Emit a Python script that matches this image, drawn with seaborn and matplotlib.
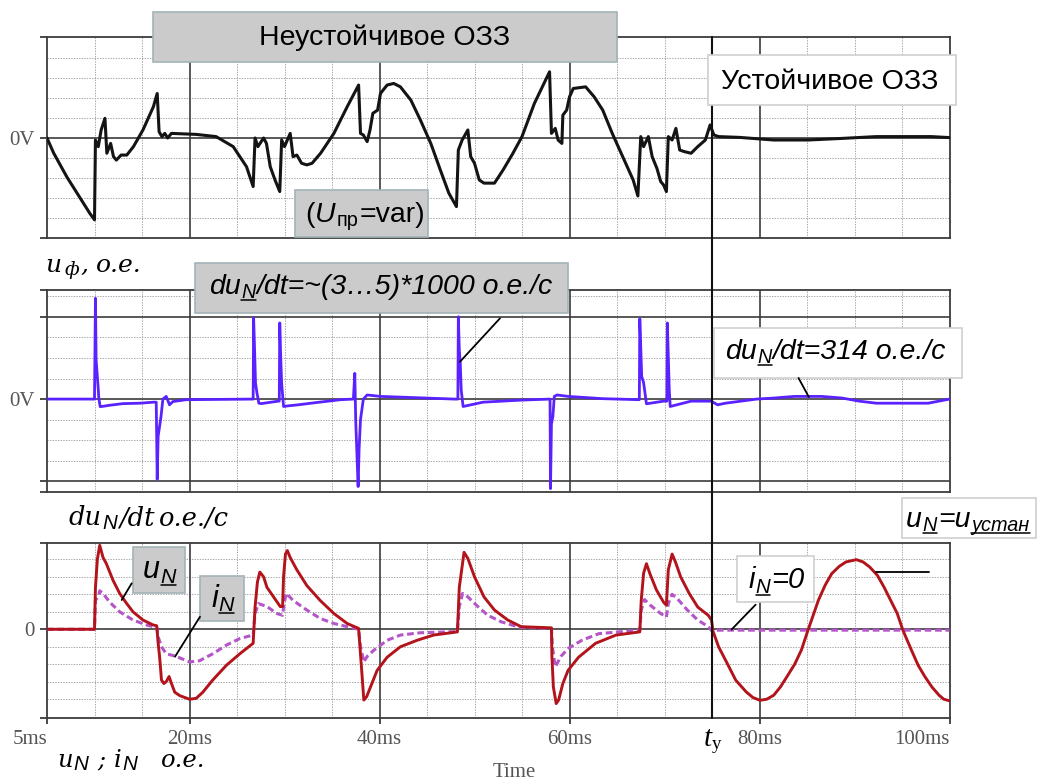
import matplotlib
matplotlib.use("Agg")
import matplotlib.pyplot as plt
import seaborn as sns
from matplotlib.transforms import IdentityTransform
from matplotlib.lines import Line2D
from matplotlib.patches import Rectangle

# ---------------- phase voltage u_ф (top trace), time in ms ----------------
t_phase = [5.0, 5.7, 7.1, 8.5, 9.5, 10.0, 10.1, 10.4, 10.7, 11.1,
           11.3, 11.7, 12.0, 12.3, 12.8, 13.4, 14.1, 15.1, 16.2, 16.6,
           16.8, 17.1, 17.4, 17.7, 18.1, 20.7, 22.8, 24.6, 26.0, 26.7,
           26.9, 27.2, 27.8, 28.1, 28.5, 29.0, 29.5, 29.7, 30.0, 30.6,
           30.9, 31.3, 31.8, 32.35, 32.9, 33.8, 35.2, 36.6, 37.8, 38.0,
           38.3, 38.7, 39.0, 39.3, 39.8, 40.1, 40.8, 41.5, 42.2, 43.3,
           44.3, 45.4, 46.4, 47.3, 48.1, 48.3, 48.7, 49.3, 49.6, 50.0,
           50.5, 51.0, 52.1, 53.0, 54.0, 55.0, 56.3, 57.9, 58.1, 58.5,
           58.8, 59.2, 59.3, 59.7, 60.0, 60.4, 61.7, 62.6, 63.5, 64.5,
           65.6, 66.7, 67.2, 67.5, 67.8, 68.3, 68.7, 69.2, 69.6, 69.9,
           70.2, 70.4, 70.8, 71.2, 71.6, 72.1, 72.8, 73.5, 74.3, 74.8,
           75.2, 75.7, 77.9, 81.5, 85.1, 88.7, 92.3, 98.1, 100.0]
u_phase = [0.0, -0.75, -1.95, -3.0, -3.75, -4.08, -0.1, -0.43, 0.4, 0.98,
           -0.76, -0.27, -0.93, -1.1, -0.85, -0.85, -0.43, 0.4, 1.56, 2.22,
           0.31, 0.07, 0.23, 0.0, 0.23, 0.18, 0.07, -0.43, -1.43, -2.42,
           0.0, -0.43, 0.0, -0.27, -1.43, -2.09, -2.67, -0.1, -0.43, 0.23,
           -0.93, -0.85, -1.26, -1.34, -1.26, -0.76, 0.23, 1.56, 2.64, 0.23,
           0.15, -0.18, 0.4, 1.23, 1.39, 2.22, 2.64, 2.72, 2.55, 1.89,
           0.9, -0.27, -1.59, -2.75, -3.42, -0.6, -0.1, 0.4, -0.93, -1.26,
           -2.09, -2.25, -2.25, -1.6, -0.8, 0.07, 1.72, 3.3, 0.23, 0.48,
           -0.1, -0.27, 1.14, 1.39, 2.05, 2.47, 2.55, 2.05, 1.39, 0.23,
           -0.93, -2.09, -2.89, 0.07, -0.43, 0.07, -0.93, -1.51, -2.17, -2.34,
           -2.67, 0.07, -0.1, 0.48, -0.6, -0.68, -0.76, -0.43, -0.1, 0.65,
           0.15, 0.07, 0.03, -0.1, -0.1, -0.02, 0.07, 0.07, 0.02]

# ---------------- du_N/dt (middle trace) ----------------
t_rate = [5.0, 10.0, 10.1, 10.17, 10.3, 10.4, 10.45, 10.6, 10.9, 11.6,
          13.0, 14.8, 16.2, 16.5, 16.6, 16.7, 16.85, 17.0, 17.2, 17.55,
          17.9, 18.25, 19.65, 26.7, 26.75, 26.85, 26.95, 27.1, 27.3, 27.55,
          29.35, 29.45, 29.5, 29.6, 29.7, 29.9, 30.35, 31.4, 33.5, 35.9,
          37.25, 37.4, 37.5, 37.75, 37.85, 38.0, 38.3, 38.7, 40.1, 47.9,
          48.25, 48.3, 48.4, 48.5, 48.6, 48.8, 50.9, 54.9, 57.95, 58.0,
          58.1, 58.25, 58.4, 58.7, 59.85, 63.5, 67.35, 67.4, 67.6, 67.8,
          68.1, 69.9, 70.25, 70.3, 70.5, 70.6, 72.8, 74.9, 75.6, 76.4,
          79.7, 81.5, 83.65, 86.55, 88.7, 90.5, 92.3, 97.75, 100.0]
du_rate = [0.0, 0.0, 4.9, 1.9, 1.1, 0.45, 0.05, -0.37, -0.35, -0.3,
           -0.22, -0.2, -0.15, -0.15, -3.9, -1.8, -1.33, -0.85, 0.0, 0.13,
           -0.28, -0.12, -0.03, 0.0, 3.95, 2.4, 0.77, 0.3, -0.2, -0.22,
           -0.1, -0.1, 3.7, 2.05, 0.75, -0.36, -0.33, -0.28, -0.16, -0.03,
           0.0, 1.25, -1.1, -4.25, -2.45, -1.0, 0.0, 0.2, 0.13, 0.0,
           0.0, 4.0, 2.4, 1.75, 0.45, -0.36, -0.15, -0.05, 0.0, -4.35,
           -1.2, -0.85, 0.13, 0.2, 0.13, 0.02, -0.03, 3.9, 1.1, 0.8,
           -0.23, -0.1, -0.1, 3.7, 0.45, -0.36, -0.1, -0.1, -0.28, -0.2,
           0.0, 0.05, 0.13, 0.13, 0.05, -0.1, -0.2, -0.2, 0.0]

# ---------------- neutral voltage u_N (bottom, solid) ----------------
t_un = [5.0, 10.0, 10.1, 10.3, 10.55, 10.7, 10.9, 11.25, 11.95, 12.65,
        13.35, 14.05, 15.1, 16.15, 16.55, 16.7, 16.85, 17.05, 17.3, 17.55,
        17.85, 18.1, 18.45, 19.0, 20.0, 20.7, 21.4, 22.45, 23.9, 25.3,
        26.7, 26.9, 27.15, 27.4, 27.8, 28.15, 28.85, 29.55, 29.8, 29.9,
        30.1, 30.3, 30.6, 31.3, 32.35, 33.75, 35.2, 36.6, 37.8, 38.0,
        38.2, 38.35, 38.65, 39.05, 39.75, 40.8, 42.2, 43.95, 45.7, 48.2,
        48.4, 48.9, 49.3, 50.0, 51.0, 52.1, 53.5, 54.9, 58.1, 58.15,
        58.3, 58.6, 58.85, 59.3, 59.85, 60.95, 62.75, 64.9, 67.4, 67.55,
        67.8, 68.1, 68.45, 69.15, 69.9, 70.2, 70.4, 70.8, 71.15, 71.7,
        72.6, 73.5, 74.6, 74.95, 75.1, 75.7, 76.43, 77.5, 78.6, 79.3,
        80.04, 80.76, 81.5, 82.2, 82.9, 83.7, 84.4, 85.1, 85.65, 86.2,
        86.9, 87.6, 88.4, 89.1, 90.2, 90.9, 91.6, 92.4, 93.1, 93.8,
        94.5, 95.1, 96.0, 96.7, 97.4, 98.15, 98.9, 99.4, 100.0]
u_n = [0.0, 0.0, 2.4, 4.0, 4.8, 4.5, 4.1, 3.75, 2.8, 2.05,
       1.5, 1.0, 0.53, 0.25, 0.2, -0.8, -1.55, -2.9, -3.1, -3.0,
       -2.7, -3.1, -3.6, -3.8, -4.0, -3.95, -3.6, -2.9, -2.05, -1.4,
       -0.8, 1.27, 2.7, 3.27, 3.0, 2.4, 1.85, 1.3, 1.3, 3.0,
       4.3, 4.5, 4.1, 3.4, 2.5, 1.65, 0.9, 0.33, 0.05, -1.4,
       -2.9, -4.05, -3.85, -3.3, -2.35, -1.6, -1.0, -0.63, -0.33, -0.15,
       2.4, 4.4, 4.05, 3.0, 1.85, 1.1, 0.53, 0.15, 0.08, -1.55,
       -3.3, -4.25, -4.05, -3.1, -2.35, -1.6, -0.8, -0.33, -0.15, 1.65,
       3.2, 3.75, 3.2, 2.25, 1.55, 1.37, 3.4, 4.3, 3.85, 3.0,
       2.05, 1.27, 0.8, 0.53, -0.1, -1.01, -1.77, -2.91, -3.58, -3.9,
       -4.06, -4.0, -3.77, -3.3, -2.7, -2.0, -1.2, -0.06, 0.8, 1.66,
       2.51, 3.18, 3.6, 3.85, 3.98, 3.85, 3.56, 3.09, 2.42, 1.66,
       0.9, -0.06, -1.2, -2.06, -2.7, -3.3, -3.77, -4.0, -4.09]

# ---------------- fault current i_N (bottom, dashed) ----------------
t_in = [5.0, 10.0, 10.1, 10.45, 10.55, 10.9, 11.6, 12.65, 14.05, 15.45,
        16.55, 16.7, 17.05, 17.55, 18.6, 20.0, 21.05, 22.45, 23.9, 25.3,
        26.7, 26.9, 27.25, 28.15, 29.2, 29.8, 29.95, 30.2, 30.9, 32.35,
        33.75, 35.2, 36.6, 37.8, 38.0, 38.35, 38.7, 39.4, 40.8, 42.2,
        44.3, 48.2, 48.4, 48.75, 49.3, 50.35, 51.4, 52.8, 54.2, 54.9,
        58.1, 58.2, 58.5, 59.1, 59.85, 61.3, 63.1, 65.2, 67.4, 67.55,
        67.9, 68.45, 69.6, 70.2, 70.4, 70.8, 71.35, 72.4, 73.5, 74.6,
        75.0, 75.7, 100.0]
i_n = [0.0, 0.0, 1.65, 1.95, 2.2, 2.05, 1.55, 1.0, 0.53, 0.25,
       0.1, -0.43, -1.0, -1.4, -1.55, -1.87, -1.8, -1.4, -0.9, -0.53,
       -0.33, 0.9, 1.47, 1.3, 0.9, 0.8, 1.47, 2.05, 1.65, 1.1,
       0.62, 0.33, 0.15, 0.0, -1.0, -1.87, -1.55, -1.2, -0.63, -0.33,
       -0.2, -0.13, 1.3, 2.05, 1.85, 1.3, 0.8, 0.43, 0.2, 0.1,
       0.05, -1.0, -2.15, -1.55, -1.1, -0.63, -0.25, -0.15, -0.05, 1.1,
       1.7, 1.4, 0.9, 0.7, 1.47, 2.0, 1.75, 1.1, 0.53, 0.15,
       -0.1, -0.05, -0.05]

time_ticks = [5, 20, 40, 60, 80, 100]
time_labels = ["5ms", "20ms", "40ms", "60ms", "80ms", "100ms"]
t_stable = 75  # moment the fault becomes stable

# ---------------- figure ----------------
sns.set_theme(style="white")
plt.rcParams["font.family"] = ["Liberation Sans", "DejaVu Sans"]

W, H = 1038, 782
fig = plt.figure(figsize=(W / 100, H / 100), dpi=100)
fig.patch.set_facecolor("white")
PIX = IdentityTransform()


def frac(l, t, r, b):
    return [l / W, 1 - b / H, (r - l) / W, (b - t) / H]


X0, X1 = 47, 949.5
ax_top = fig.add_axes(frac(X0, 37.3, X1, 238.3))
ax_mid = fig.add_axes(frac(X0, 290.0, X1, 491.7))
ax_bot = fig.add_axes(frac(X0, 542.7, X1, 718.3))

line_kw = dict(estimator=None, sort=False, zorder=3)
sns.lineplot(x=t_phase, y=u_phase, ax=ax_top, color="#141414", linewidth=2.2, **line_kw)
sns.lineplot(x=t_rate, y=du_rate, ax=ax_mid, color="#5a22ff", linewidth=2.0, **line_kw)
sns.lineplot(x=t_un, y=u_n, ax=ax_bot, color="#b3141b", linewidth=2.1, **line_kw)
sns.lineplot(x=t_in, y=i_n, ax=ax_bot, color="#b455c8", linewidth=2.2,
             linestyle=(0, (2.2, 1.2)), estimator=None, sort=False, zorder=2.9)

GRID_DOT = dict(color="#a6a6a6", linewidth=0.7, linestyle=(0, (1.4, 1.3)), zorder=0.5)
GRID_SOLID = dict(color="#3c3c3c", linewidth=1.2, zorder=0.6)
SERIF = ["Liberation Serif", "DejaVu Serif"]
LABEL_FONT = dict(family=SERIF, size=15, color="#555555")


def panel(ax, ylim, dotted, solid, zero_label):
    ax.set_xlim(5, 100)
    ax.set_ylim(*ylim)
    for t in range(10, 100, 5):
        ax.axvline(t, **(GRID_SOLID if t % 20 == 0 else GRID_DOT))
    for v in dotted:
        ax.axhline(v, **GRID_DOT)
    for v in solid:
        ax.axhline(v, **GRID_SOLID)
    for sp in ax.spines.values():
        sp.set_visible(True)
        sp.set_color("#3c3c3c")
        sp.set_linewidth(1.3)
    ticks = sorted(set([ylim[0], ylim[1]] + list(solid)))
    ax.set_yticks(ticks)
    ax.set_yticklabels([zero_label if v == 0 else "" for v in ticks], **LABEL_FONT)
    ax.tick_params(axis="y", left=True, direction="out", length=5, width=1.3,
                   color="#3c3c3c", pad=3.6)
    ax.tick_params(axis="x", bottom=False, labelbottom=False)
    ax.set_xlabel("")
    ax.set_ylabel("")
    ax.set_facecolor("white")
    ax.grid(False)


panel(ax_top, (-5.0, 5.02), [-4, -3, -2, -1, 1, 2, 3, 4], [0], "0V")
panel(ax_mid, (-4.5, 5.3), [-3, -2, -1, 1, 2, 3, 5], [-4, 0, 4], "0V")
panel(ax_bot, (-5.09, 4.95), [-4, -3, -2, -1, 1, 2, 3, 4], [0], "0")

ax_bot.set_xticks(time_ticks)
ax_bot.set_xticklabels(time_labels, **LABEL_FONT)
ax_bot.tick_params(axis="x", bottom=True, labelbottom=True, direction="out",
                   length=4.3, width=1.3, color="#3c3c3c", pad=4)
labels = ax_bot.get_xticklabels()
labels[0].set_horizontalalignment("right")
labels[-1].set_horizontalalignment("right")

fig.text(493, H - 763, "Time", transform=PIX, va="top", ha="left", **LABEL_FONT)

# vertical marker of the stable-fault moment through all panels
x_ty = ax_bot.transData.transform((t_stable, 0))[0]
fig.add_artist(Line2D([x_ty, x_ty], [H - 37.3, H - 718.3], color="#111111",
                      linewidth=1.5, transform=PIX, zorder=0.8))

# ---------------- text helpers ----------------
SANS = "Liberation Sans"
SERIF_IT = "DejaVu Serif"


def seg(text, family=SANS, style="italic", sub=False, ul=False, gap=0.03):
    return dict(text=text, family=family, style=style, sub=sub, ul=ul, gap=gap)


def rich(x, y, parts, size, ha="center", sub_scale=0.7, drop=0.15, color="black"):
    renderer = fig.canvas.get_renderer()
    em = size * 100 / 72
    placed = []
    for p in parts:
        fs = size * (sub_scale if p["sub"] else 1.0)
        t = fig.text(0, 0, p["text"], fontsize=fs, family=p["family"], style=p["style"],
                     color=color, transform=PIX, ha="left", va="baseline", zorder=5)
        w = t.get_window_extent(renderer).width
        placed.append((t, w, p))
    total = sum(w + p["gap"] * em for _, w, p in placed)
    cx = x - total / 2 if ha == "center" else x
    base = H - y
    for t, w, p in placed:
        cx += p["gap"] * em
        yy = base - (drop * em if p["sub"] else 0.0)
        t.set_position((cx, yy))
        if p["ul"]:
            uy = yy - 0.07 * em
            fig.add_artist(Line2D([cx, cx + w], [uy, uy], color=color, linewidth=1.1,
                                  transform=PIX, zorder=5))
        cx += w


def box(l, t, r, b, gray=True):
    face, edge = ("#cbcbcb", "#a3b3b7") if gray else ("white", "#cfcfcf")
    fig.add_artist(Rectangle((l, H - b), r - l, b - t, facecolor=face, edgecolor=edge,
                             linewidth=1.2, transform=PIX, zorder=4))


def leader(x0, y0, x1, y1):
    fig.add_artist(Line2D([x0, x1], [H - y0, H - y1], color="black", linewidth=1.3,
                          transform=PIX, zorder=4.5))


# ---------------- annotations ----------------
box(152.7, 12.3, 617.3, 61.7)
rich(384, 45, [seg("Неустойчивое ОЗЗ", style="normal")], 20.5)

box(707.6, 55, 956.3, 104.6, gray=False)
rich(829.4, 88.6, [seg("Устойчивое ОЗЗ", style="normal")], 20.5)

box(295, 190, 428, 236.7)
rich(364.5, 221.7, [seg("(", style="normal"), seg("U"), seg("пр", style="normal", sub=True),
                    seg("=var)", style="normal")], 20.5)

box(195, 263, 567.9, 313)
rich(380.5, 294, [seg("du"), seg("N", sub=True, ul=True), seg("/dt=~(3…5)*1000 о.е./с")], 20.5)
leader(460, 361.7, 500, 318.3)

box(714.4, 328.3, 961.5, 378, gray=False)
rich(835.4, 359.2, [seg("du"), seg("N", sub=True, ul=True), seg("/dt=314 о.е./с")], 20.5)
leader(798.5, 378, 808.8, 396.9)

box(132.7, 546.7, 185, 592.7)
rich(158.8, 578.3, [seg("u"), seg("N", sub=True, ul=True)], 22)
leader(131.7, 583.3, 121.7, 600)

box(200, 576, 244.3, 620.7)
rich(222.2, 606.7, [seg("i"), seg("N", sub=True, ul=True)], 22)
leader(200, 616.7, 175, 656.7)

box(736.7, 556, 814, 602, gray=False)
rich(776, 588.3, [seg("i"), seg("N", sub=True, ul=True), seg("=0")], 21)
leader(755.6, 604.7, 731.6, 629.5)

box(901.7, 498, 1036, 538, gray=False)
rich(967.3, 526.7, [seg("u"), seg("N", sub=True, ul=True), seg("=u"),
                    seg("устан", sub=True, ul=True)], 20.5)
leader(875.7, 572.3, 928.9, 572.3)

# ---------------- axis captions ----------------
rich(45, 271.7, [seg("u", SERIF_IT), seg("ф", SERIF_IT, sub=True, gap=0.12),
                 seg(",", SERIF_IT, gap=0.05), seg("о.е.", SERIF_IT, gap=0.3)],
     18, ha="left", sub_scale=0.75)
rich(68, 525, [seg("du", SERIF_IT), seg("N", SANS, sub=True), seg("/dt", SERIF_IT, gap=0.05),
               seg("о.е./с", SERIF_IT, gap=0.2)], 18.5, ha="left", sub_scale=0.8)
rich(56.7, 766.7, [seg("u", SERIF_IT), seg("N", SANS, sub=True), seg(";", SERIF_IT, gap=0.35),
                   seg("i", SERIF_IT, gap=0.35), seg("N", SANS, sub=True),
                   seg("о.е.", SERIF_IT, gap=1.0)], 17.5, ha="left", sub_scale=0.85)
rich(703, 745.7, [seg("t", "Liberation Serif"), seg("y", "Liberation Serif", style="normal",
                                                   sub=True, gap=0.0)],
     21, ha="left", sub_scale=0.65, drop=0.12)

fig.savefig("out.png", dpi=100, facecolor="white")
